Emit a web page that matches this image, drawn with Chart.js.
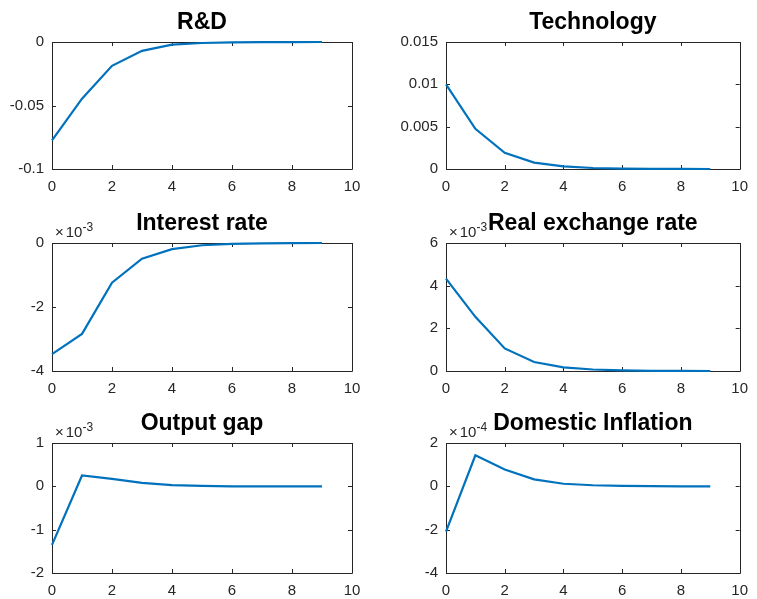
<!DOCTYPE html>
<html>
<head>
<meta charset="utf-8">
<script src="https://cdn.jsdelivr.net/npm/chart.js@4"></script>
<style>
  body { margin: 0; background: #fff; }
  #wrap { position: relative; width: 757px; height: 599px; }
  canvas { position: absolute; }
</style>
</head>
<body>
<div id="wrap"></div>
<script>
// impulse responses, periods 0..9
const periods = [0, 1, 2, 3, 4, 5, 6, 7, 8, 9];

const rdValues = [-0.0775, -0.0446, -0.0188, -0.0070, -0.0021, -0.0008, -0.0003, -0.0001, -0.00004, -0.00001];
const technologyValues = [0.0100, 0.00475, 0.00192, 0.00075, 0.0003, 0.00012, 0.00005, 0.00002, 0.00001, 0.0];
const interestValues = [-0.00347, -0.00284, -0.00124, -0.00049, -0.00019, -0.00007, -0.00003, -0.00001, -0.000005, 0.0];
const exchangeValues = [0.00433, 0.00254, 0.00106, 0.00042, 0.00017, 0.00007, 0.00003, 0.00001, 0.000005, 0.0];
const outputGapValues = [-0.00135, 0.00025, 0.00017, 0.00008, 0.00003, 0.00001, 0.0, 0.0, 0.0, 0.0];
const inflationValues = [-0.000209, 0.000143, 0.000078, 0.000032, 0.000012, 0.000005, 0.000002, 0.000001, 0.0, 0.0];

const titles = ['R&D', 'Technology', 'Interest rate', 'Real exchange rate', 'Output gap', 'Domestic Inflation'];
const series = [rdValues, technologyValues, interestValues, exchangeValues, outputGapValues, inflationValues];
// y axis limits and steps
const yMins = [-0.1, 0, -0.004, 0, -0.002, -0.0004];
const yMaxs = [0, 0.015, 0, 0.006, 0.001, 0.0002];
const ySteps = [0.05, 0.005, 0.002, 0.002, 0.001, 0.0002];
const exponents = [0, 0, -3, -3, -3, -4];
const xTickStep = 2;

const axisColor = '#262626';
const fontFamily = '"Liberation Sans", Arial, Helvetica, sans-serif';

// plugin: MATLAB style box, inward ticks, exponent and title
const matlabAxes = {
    id: 'matlabAxes',
    beforeDatasetsDraw(chart) {
        // box + ticks go under the line
        const { ctx, chartArea: a, scales: { x, y } } = chart;
        ctx.save();
        ctx.strokeStyle = axisColor;
        ctx.lineWidth = 1;
        ctx.beginPath();
        ctx.rect(Math.round(a.left) + 0.5, Math.round(a.top) + 0.5,
            Math.round(a.right - a.left), Math.round(a.bottom - a.top));
        const tl = 4;
        x.ticks.forEach(t => {
            const px = Math.round(x.getPixelForValue(t.value)) + 0.5;
            ctx.moveTo(px, a.bottom); ctx.lineTo(px, a.bottom - tl);
            ctx.moveTo(px, a.top); ctx.lineTo(px, a.top + tl);
        });
        y.ticks.forEach(t => {
            const py = Math.round(y.getPixelForValue(t.value)) + 0.5;
            ctx.moveTo(a.left, py); ctx.lineTo(a.left + tl, py);
            ctx.moveTo(a.right, py); ctx.lineTo(a.right - tl, py);
        });
        ctx.stroke();
        ctx.restore();
    },
    afterDraw(chart, args, opts) {
        const { ctx, chartArea: a } = chart;
        ctx.save();
        if (opts.exponent) {
            ctx.fillStyle = axisColor;
            ctx.textBaseline = 'alphabetic';
            ctx.textAlign = 'left';
            ctx.font = '15px ' + fontFamily;
            const x0 = a.left + 3;
            ctx.fillText('\u00d7', x0, a.top - 6);
            const wx = ctx.measureText('\u00d7').width + 2;
            ctx.fillText('10', x0 + wx, a.top - 6);
            const w = wx + ctx.measureText('10').width;
            ctx.font = '12px ' + fontFamily;
            ctx.fillText(String(opts.exponent), x0 + w, a.top - 12);
        }

        ctx.fillStyle = '#000';
        ctx.font = 'bold 23px ' + fontFamily;
        ctx.textAlign = 'center';
        ctx.textBaseline = 'alphabetic';
        ctx.fillText(opts.title, (a.left + a.right) / 2, a.top - 13);
        ctx.restore();
    }
};

function fmt(v, exp) {
    const scaled = v / Math.pow(10, exp);
    return String(Number(scaled.toFixed(6)));
}

const wrap = document.getElementById('wrap');
// grid geometry (axes boxes)
const colLeft = [0, 378], colWidth = [378, 379];
const axLeft = [52, 446], axRight = [352, 747];
const rowTop = [0, 200, 400], rowHeight = [200, 200, 199];
const axTop = [42, 243, 443], axBottom = [169, 371, 573];

series.forEach((values, i) => {
    const c = i % 2, r = Math.floor(i / 2);
    const canvas = document.createElement('canvas');
    canvas.width = colWidth[c];
    canvas.height = rowHeight[r];
    canvas.style.left = colLeft[c] + 'px';
    canvas.style.top = rowTop[r] + 'px';
    wrap.appendChild(canvas);

    const yWidth = axLeft[c] - colLeft[c];
    const padRight = colLeft[c] + colWidth[c] - axRight[c];
    const padTop = axTop[r] - rowTop[r];
    const xHeight = rowTop[r] + rowHeight[r] - axBottom[r];
    const exp = exponents[i];

    new Chart(canvas, {
        type: 'line',
        data: {
            datasets: [{
                data: periods.map((p, k) => ({ x: p, y: values[k] })),
                borderColor: '#0072BD',
                borderWidth: 2.2,
                pointRadius: 0,
                tension: 0,
                clip: false
            }]
        },
        options: {
            responsive: false,
            animation: false,
            events: [],
            layout: { padding: { left: 0, right: padRight, top: padTop, bottom: 0 } },
            plugins: {
                legend: { display: false },
                tooltip: { enabled: false },
                matlabAxes: { title: titles[i], exponent: exp }
            },
            scales: {
                x: {
                    type: 'linear',
                    min: 0,
                    max: 10,
                    grid: { display: false, drawTicks: false },
                    border: { display: false },
                    ticks: {
                        stepSize: xTickStep,
                        padding: 9,
                        maxRotation: 0,
                        color: axisColor,
                        font: { family: fontFamily, size: 15 }
                    },
                    afterFit: s => { s.height = xHeight; }
                },
                y: {
                    type: 'linear',
                    min: yMins[i],
                    max: yMaxs[i],
                    grid: { display: false, drawTicks: false },
                    border: { display: false },
                    ticks: {
                        stepSize: ySteps[i],
                        padding: 8,
                        color: axisColor,
                        font: { family: fontFamily, size: 15 },
                        callback: v => fmt(v, exp)
                    },
                    afterFit: s => { s.width = yWidth; }
                }
            }
        },
        plugins: [matlabAxes]
    });
});
</script>
</body>
</html>
